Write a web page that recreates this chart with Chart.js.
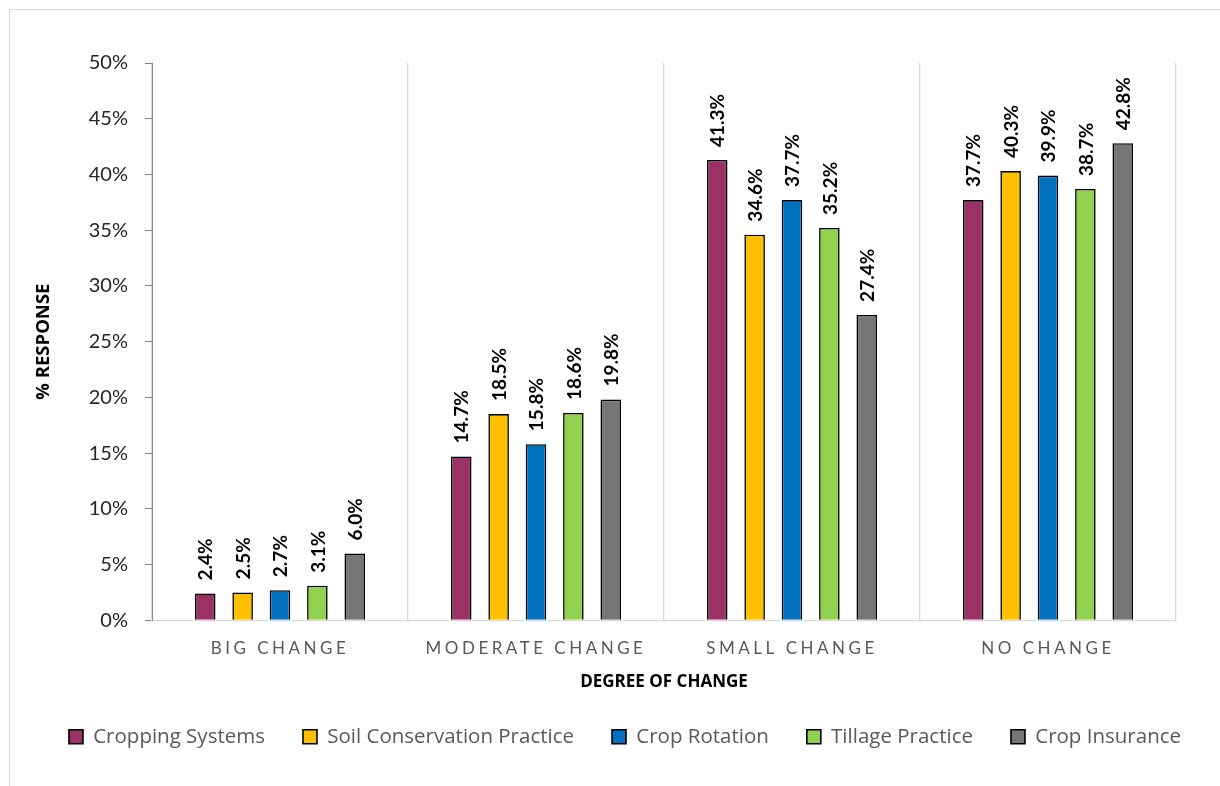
<!DOCTYPE html>
<html lang="en">

<head>
    <meta charset="UTF-8">
    <title>Degree of Change</title>
    <script src="https://cdn.jsdelivr.net/npm/chart.js"></script>
    <style>
        html, body { margin: 0; padding: 0; background: #fff; overflow: hidden; }
        #frame { position: absolute; left: 9px; top: 9px; width: 1240px; height: 800px; border: 1px solid #d9d9d9; }
        #wrap { position: absolute; left: 0; top: 0; width: 1220px; height: 786px; }
    </style>
</head>

<body>
    <div id="frame"></div>
    <div id="wrap"><canvas id="changeChart"></canvas></div>

    <script>
        const categories = ['BIG CHANGE', 'MODERATE CHANGE', 'SMALL CHANGE', 'NO CHANGE'];
        const seriesNames = ['Cropping Systems', 'Soil Conservation Practice', 'Crop Rotation', 'Tillage Practice', 'Crop Insurance'];
        const croppingSystems = [2.4, 14.7, 41.3, 37.7];
        const soilConservation = [2.5, 18.5, 34.6, 40.3];
        const cropRotation = [2.7, 15.8, 37.7, 39.9];
        const tillagePractice = [3.1, 18.6, 35.2, 38.7];
        const cropInsurance = [6.0, 19.8, 27.4, 42.8];
        const seriesColors = ['#993366', '#ffc000', '#0070c0', '#92d050', '#767676'];
        const yTicks = [0, 5, 10, 15, 20, 25, 30, 35, 40, 45, 50];

        const FONT = 'Lato, "Open Sans", sans-serif';
        const WIDE = '"Open Sans", Lato, sans-serif';
        const seriesValues = [croppingSystems, soilConservation, cropRotation, tillagePractice, cropInsurance];

        // rotated value labels above each bar
        const barValues = {
            id: 'barValues',
            afterDatasetsDraw(chart) {
                const ctx = chart.ctx;
                ctx.save();
                ctx.font = 'bold 19px ' + FONT;
                ctx.fillStyle = '#000';
                ctx.textAlign = 'left';
                ctx.textBaseline = 'middle';
                chart.data.datasets.forEach((ds, i) => {
                    chart.getDatasetMeta(i).data.forEach((bar, j) => {
                        ctx.save();
                        ctx.translate(bar.x + 1, bar.y - 13);
                        ctx.rotate(-Math.PI / 2);
                        ctx.fillText(ds.data[j].toFixed(1) + '%', 0, 0);
                        ctx.restore();
                    });
                });
                ctx.restore();
            }
        };

        // letter-spaced category labels on the x axis
        const spacedTicks = {
            id: 'spacedTicks',
            beforeDraw(chart) {
                const sx = chart.scales.x;
                if (sx._spaced) return;
                const orig = sx.drawLabels.bind(sx);
                sx.drawLabels = function (area) {
                    const ctx = this.ctx;
                    ctx.save();
                    ctx.letterSpacing = '3.5px';
                    orig(area);
                    ctx.restore();
                };
                sx._spaced = true;
            }
        };

        const chart = new Chart(document.getElementById('changeChart'), {
            type: 'bar',
            data: {
                labels: categories,
                datasets: seriesNames.map((name, i) => ({
                    label: name,
                    data: seriesValues[i],
                    backgroundColor: seriesColors[i],
                    borderColor: '#000',
                    borderWidth: 1.6,
                    categoryPercentage: 0.73,
                    barPercentage: 0.55
                }))
            },
            options: {
                responsive: true,
                maintainAspectRatio: false,
                animation: false,
                layout: { padding: { top: 63, left: 30, right: 0, bottom: 29 } },
                plugins: {
                    tooltip: { enabled: false },
                    legend: {
                        position: 'bottom',
                        labels: {
                            boxWidth: 14,
                            boxHeight: 14,
                            padding: 38,
                            color: '#595959',
                            font: { family: WIDE, size: 20.5 }
                        }
                    }
                },
                scales: {
                    x: {
                        grid: { offset: true, color: '#d9d9d9', lineWidth: 1.3, drawTicks: false },
                        border: { color: '#d9d9d9', width: 1.3 },
                        ticks: { color: '#595959', padding: 18, font: { family: FONT, size: 17 } },
                        title: {
                            display: true,
                            text: 'DEGREE OF CHANGE',
                            color: '#000',
                            padding: { top: 0, bottom: -4 },
                            font: { family: WIDE, size: 17, weight: 'bold' }
                        },
                        afterFit(scale) { scale.height = 68.25; }
                    },
                    y: {
                        min: 0,
                        max: 50,
                        afterBuildTicks(scale) { scale.ticks = yTicks.map(v => ({ value: v })); },
                        grid: { drawOnChartArea: false, color: '#868686', tickLength: 7 },
                        border: { color: '#868686', width: 1 },
                        ticks: {
                            color: '#262626',
                            padding: 17,
                            font: { family: FONT, size: 20 },
                            callback: v => v + '%'
                        },
                        title: {
                            display: true,
                            text: '% RESPONSE',
                            color: '#000',
                            padding: { top: 3, bottom: 0 },
                            font: { family: WIDE, size: 18.5, weight: 'bold' }
                        },
                        afterFit(scale) { scale.width = 122; }
                    },
                    yRight: {
                        position: 'right',
                        display: true,
                        grid: { display: false },
                        border: { display: false },
                        ticks: { display: false },
                        afterFit(scale) { scale.width = 44; }
                    }
                }
            },
            plugins: [barValues, spacedTicks]
        });
    </script>
</body>

</html>
